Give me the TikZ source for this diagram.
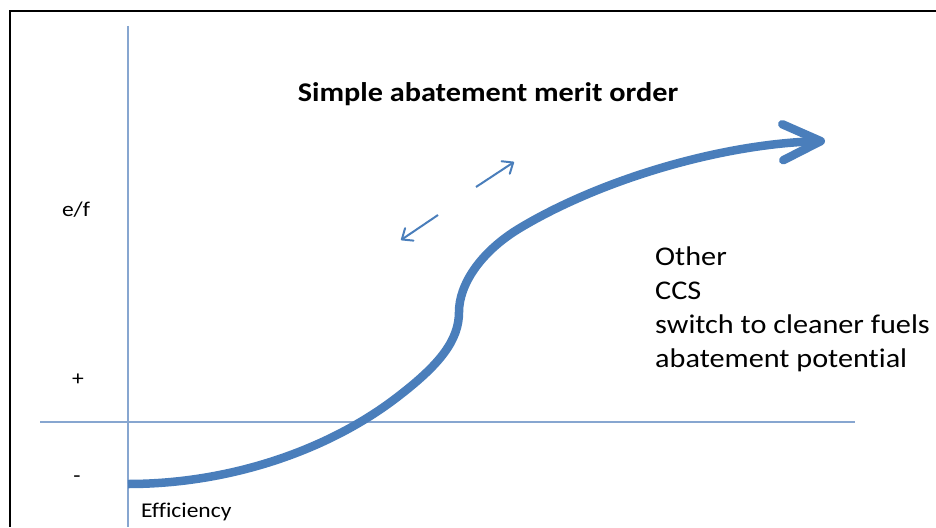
\documentclass[tikz,border=0pt]{standalone}
\usepackage{fontspec}
\setmainfont[FakeStretch=1.12,Ligatures=NoCommon]{Carlito}
\usetikzlibrary{arrows.meta}
\definecolor{curveblue}{RGB}{74,126,187}
\definecolor{axisblue}{RGB}{135,166,208}
\tikzset{
	axis/.style={draw=axisblue,line width=1.3pt},
	hint/.style={draw=curveblue,line width=2pt,-{Straight Barb[length=9pt,width=15pt,round]}},
	lbl/.style={inner sep=0pt,font=\fontsize{21pt}{25pt}\selectfont},
	item/.style={inner sep=0pt,anchor=base west,font=\fontsize{27pt}{32pt}\selectfont}
}
\begin{document}
\begin{tikzpicture}[x=1pt,y=-1pt]
	\useasboundingbox (0,0) rectangle (936,527);
	% frame
	\draw[line width=1.3pt] (9,11)--(936,11);
	\draw[line width=2pt] (10,10.5)--(10,527);
	
	% axes
	\draw[axis] (128,26)--(128,527);
	\draw[axis] (40,422)--(855,422);
	\node[lbl] (ef) at (76,210){e/f};
	\node[lbl] (plus) at (78,380){+};
	\node[lbl] (minus) at (77,479){-};
	\node[lbl,anchor=base west] (eff) at (141,517){Efficiency};
	
	% merit order curve
	\draw[curveblue,line width=8.5pt,-{Straight Barb[length=38pt,width=36pt,round]}]
		(128,484) .. controls (230,484) and (330,450) .. (400,395)
		.. controls (440,364) and (459,340) .. (459,312)
		.. controls (459,285) and (480,252) .. (520,228)
		.. controls (600,180) and (720,144) .. (825,141);
	
	\node[inner sep=0pt,font=\bfseries\fontsize{27pt}{32pt}\selectfont] (title) at (488,94){Simple abatement merit order};
	
	\coordinate (upA) at (476,187);
	\coordinate (upB) at (514,162);
	\coordinate (dnA) at (438,215);
	\coordinate (dnB) at (401,240);
	\draw[hint] (upA)--(upB);
	\draw[hint] (dnA)--(dnB);
	
	\node[item] (other) at (655,265){Other};
	\node[item] (ccs) at (655,299){CCS};
	\node[item] (fuels) at (655,333){switch to cleaner fuels};
	\node[item] (pot) at (655,367){abatement potential};
\end{tikzpicture}
\end{document}
